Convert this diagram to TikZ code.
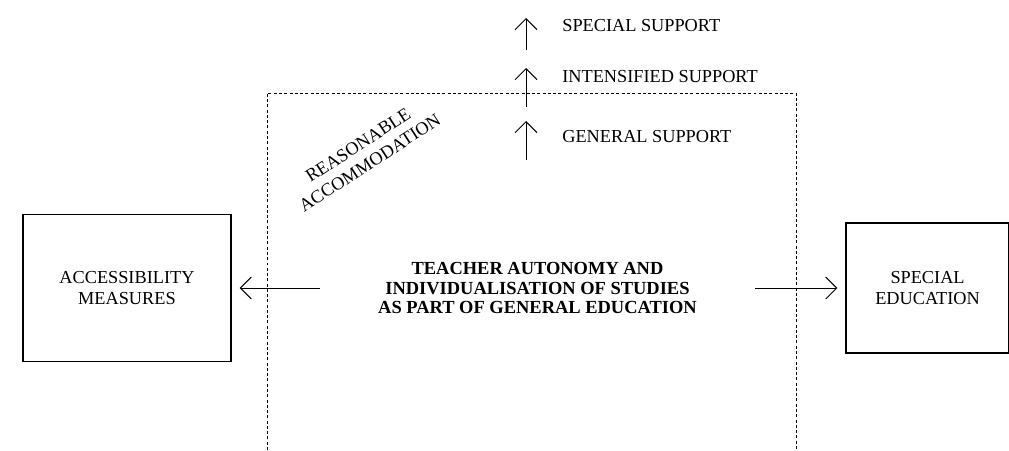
\documentclass[tikz,border=0pt]{standalone}
\usepackage{fontspec}
\setmainfont{Liberation Serif}
\usepackage{tikz}
\usetikzlibrary{arrows.meta, positioning}

\begin{document}
\begin{tikzpicture}[
    box/.style={rectangle, draw=black, line width=0.8pt, align=center, font=\fontsize{10.4}{11.5}\selectfont},
    lbl/.style={font=\fontsize{10.4}{11.5}\selectfont, inner sep=0pt},
    core/.style={align=center, font=\bfseries\fontsize{10.5}{11.1}\selectfont, minimum width=8.7cm, inner sep=0pt},
    arrow/.style={-{Straight Barb[length=2.2mm, width=4.4mm]}, line width=0.55pt},
    frame/.style={line width=0.55pt, dash pattern=on 1.7pt off 1.3pt}
]
\useasboundingbox (0,0) rectangle (20.18,-9);
% ==========================================
% MARCO: EDUCACION GENERAL
% ==========================================
\coordinate (fr1) at (5.34,-9);
\coordinate (fr2) at (15.92,-1.86);
\draw[frame] (fr1) |- (fr2) -- (fr2 |- fr1);

\node[core] (core) at (10.75,-5.76) {TEACHER AUTONOMY AND\\INDIVIDUALISATION OF STUDIES\\AS PART OF GENERAL EDUCATION};
\node[lbl, rotate=33, align=center, font=\fontsize{10.4}{12.2}\selectfont] (rea) at (7.28,-3.08) {REASONABLE\\ACCOMMODATION};

% ==========================================
% CAJAS LATERALES
% ==========================================
\node[box, minimum width=4.16cm, minimum height=2.94cm, left=1.76cm of core] (acc) {ACCESSIBILITY\\MEASURES};
\node[box, minimum width=3.26cm, minimum height=2.6cm, right=1.8cm of core] (sped) {SPECIAL\\EDUCATION};

\draw[arrow, shorten >=0.16cm] (core.west) -- (acc.east);
\draw[arrow, shorten >=0.16cm] (core.east) -- (sped.west);

% ==========================================
% NIVELES DE APOYO
% ==========================================
\node[lbl, anchor=west] (gen) at (11.24,-2.73) {GENERAL SUPPORT};
\node[lbl, anchor=west] (int) at (11.24,-1.53) {INTENSIFIED SUPPORT};
\node[lbl, anchor=west] (spe) at (11.24,-0.51) {SPECIAL SUPPORT};

\foreach \n/\a/\b in {1/-3.2/-2.42, 2/-2.14/-1.36, 3/-1.0/-0.36} {
    \coordinate (up\n s) at (10.52,\a);
    \coordinate (up\n e) at (10.52,\b);
    \draw[arrow] (up\n s) -- (up\n e);
}

\end{tikzpicture}
\end{document}
